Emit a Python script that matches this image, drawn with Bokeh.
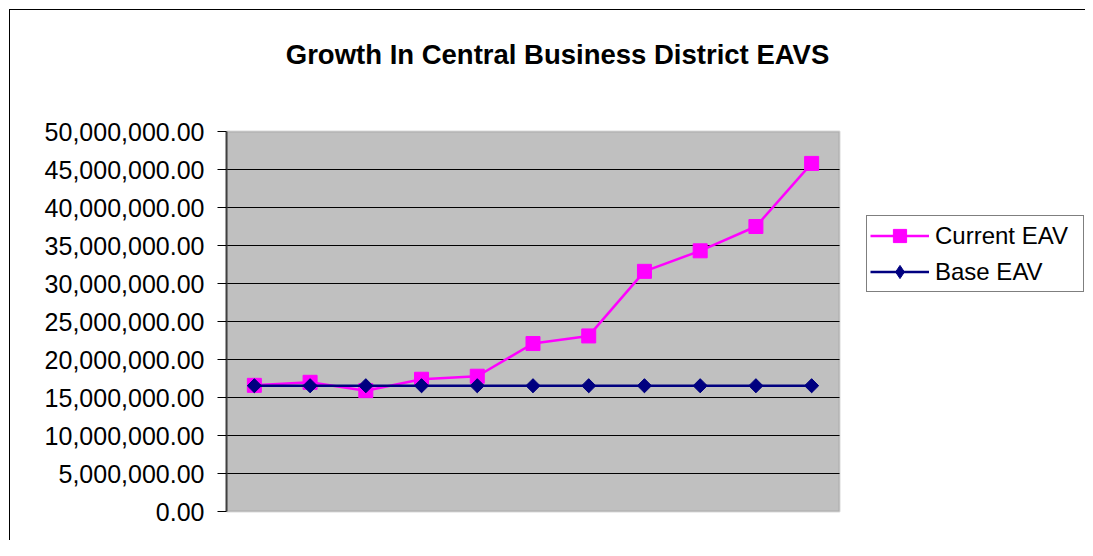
from bokeh.plotting import figure
from bokeh.models import (NumeralTickFormatter, FixedTicker, Range1d, Legend,
                          InlineStyleSheet, BoxAnnotation, Label)
from bokeh.embed import file_html
from bokeh.resources import INLINE

# ---- data ----
periods = [1, 2, 3, 4, 5, 6, 7, 8, 9, 10, 11]
current_eav = [16600000, 17000000, 15900000, 17400000, 17800000, 22100000,
               23100000, 31600000, 34300000, 37500000, 45800000]
base_eav = [16550000] * 11
y_ticks = [0, 5000000, 10000000, 15000000, 20000000, 25000000,
           30000000, 35000000, 40000000, 45000000, 50000000]
title_text = "Growth In Central Business District EAVS"

FONT = "Liberation Sans"

# ---- layout (pixels) ----
W, H = 1085, 540
AREA_LEFT, AREA_RIGHT = 226, 839       # grey plot area
AREA_TOP, AREA_BOTTOM = 131, 511
PAD = 3                                 # room for the area outline below
TITLE_X, TITLE_Y = 557, 54             # title centre

x_lo, x_hi = periods[0] - 0.5, periods[-1] + 0.5
y_lo, y_hi = y_ticks[0], y_ticks[-1]
px_per_x = (AREA_RIGHT - AREA_LEFT) / (x_hi - x_lo)
px_per_y = (AREA_BOTTOM - AREA_TOP) / (y_hi - y_lo)

frame_bottom = AREA_BOTTOM + PAD
x_range = Range1d(x_lo, x_lo + (W - AREA_LEFT) / px_per_x)
y_range = Range1d(y_lo - PAD / px_per_y, y_hi + AREA_TOP / px_per_y)

p = figure(width=W, height=H, output_backend="svg", toolbar_location=None,
           title=None, x_range=x_range, y_range=y_range,
           min_border_left=AREA_LEFT, min_border_right=0,
           min_border_top=0, min_border_bottom=H - frame_bottom)

p.background_fill_color = "white"
p.border_fill_color = "white"
p.outline_line_color = None

# grey plot area
area = BoxAnnotation(left=x_lo, right=x_hi, bottom=y_lo, top=y_hi,
                     fill_color="#C0C0C0", fill_alpha=1,
                     line_color="#808080", line_width=2, level="underlay")
p.add_layout(area)

# title
title = Label(x=x_lo + (TITLE_X - AREA_LEFT) / px_per_x,
              y=y_hi + (AREA_TOP - TITLE_Y) / px_per_y,
              text=title_text, text_font=FONT, text_font_size="27.5px",
              text_font_style="bold", text_color="black",
              text_align="center", text_baseline="middle")
p.add_layout(title)

# axes
p.xaxis.visible = False
p.xgrid.visible = False
p.ygrid.visible = False
yax = p.yaxis[0]
yax.bounds = (y_lo, y_hi)
yax.ticker = FixedTicker(ticks=y_ticks)
yax.formatter = NumeralTickFormatter(format="0,0.00")
yax.major_label_text_font = FONT
yax.major_label_text_font_size = "25px"
yax.major_label_text_color = "black"
yax.major_tick_out = 9
yax.major_tick_in = 0
yax.minor_tick_line_color = None
yax.major_tick_line_color = "black"
yax.axis_line_color = "#404040"
yax.axis_line_width = 2
yax.major_label_standoff = 13

# horizontal gridlines across the plot area only
grid_y = y_ticks[1:-1]
p.segment(x0=[x_lo] * len(grid_y), x1=[x_hi] * len(grid_y), y0=grid_y, y1=grid_y,
          line_color="black", line_width=1)

# series
l1 = p.line(periods, current_eav, line_color="#FF00FF", line_width=2.5)
s1 = p.scatter(periods, current_eav, marker="square", size=14,
               fill_color="#FF00FF", line_color="#FF00FF")
l2 = p.line(periods, base_eav, line_color="#000080", line_width=2.5)
# diamond marker (used for the legend swatch, sits under the rotated squares)
d2 = p.scatter(periods, base_eav, marker="diamond", size=13,
               fill_color="#000080", line_color="#000080")
s2 = p.scatter(periods, base_eav, marker="square", size=10, angle=0.785398,
               fill_color="#000080", line_color="#000080")

legend = Legend(items=[("Current EAV", [l1, s1]), ("Base EAV", [l2, d2])],
                location=(866 - AREA_LEFT, frame_bottom - 292))
legend.border_line_color = "black"
legend.border_line_width = 1
legend.background_fill_color = "white"
legend.background_fill_alpha = 1
legend.label_text_font = FONT
legend.label_text_font_size = "24px"
legend.label_text_color = "black"
legend.glyph_width = 59
legend.glyph_height = 33
legend.label_height = 33
legend.label_width = 145
legend.label_standoff = 6
legend.padding = 3
legend.spacing = 3
legend.margin = 0
p.add_layout(legend, "center")

# outer chart border (its right/bottom edges fall outside the window)
p.stylesheets = [InlineStyleSheet(css="""
:host { position: relative; }
:host::after {
  content: ""; position: absolute; left: 9px; top: 9px;
  width: calc(100% - 9px); height: calc(100% - 9px);
  border-top: 1.5px solid #000; border-left: 1.5px solid #000;
  box-sizing: border-box; pointer-events: none; z-index: 100;
}
""")]

open("out.html", "w").write(file_html(p, INLINE))
